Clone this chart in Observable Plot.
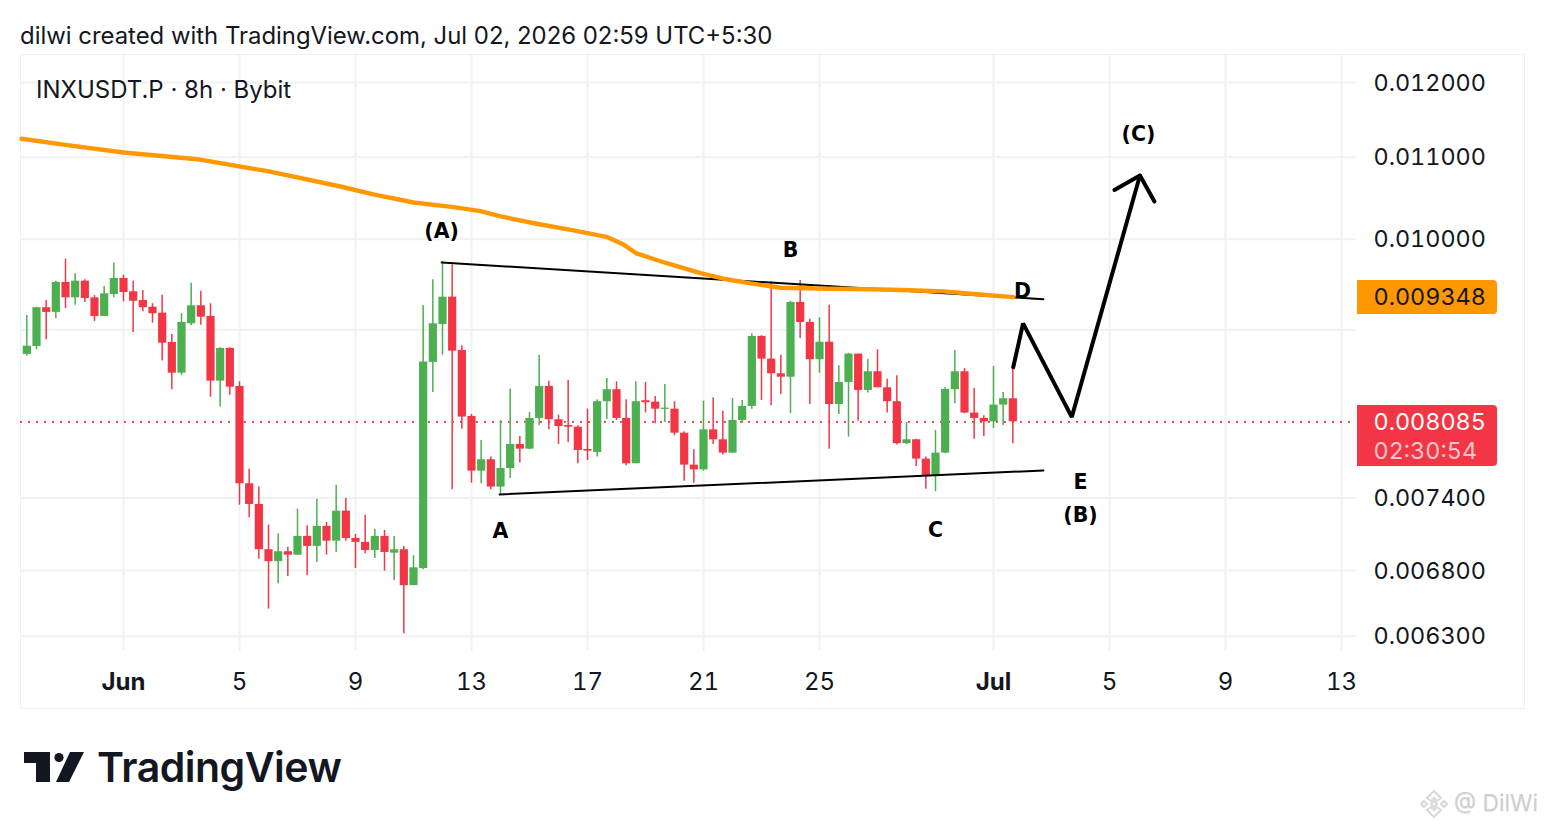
<!DOCTYPE html>
<html>
<head>
<meta charset="utf-8">
<script src="https://cdn.jsdelivr.net/npm/d3@7"></script>
<script src="https://cdn.jsdelivr.net/npm/@observablehq/plot@0.6"></script>
<style>
html,body{margin:0;padding:0;background:#fff;width:1544px;height:828px;overflow:hidden;font-family:Inter,sans-serif;color:#131722}
#page{position:relative;width:1544px;height:828px}
.abs{position:absolute;white-space:nowrap}
#chart{position:absolute;left:0;top:54px}
#chart svg{display:block;font-variant-numeric:tabular-nums}
</style>
</head>
<body>
<div id="page">
<div class="abs" id="frame" style="left:20px;top:54px;width:1503px;height:653px;border:1px solid #f0f1f3"></div>
<div class="abs" style="left:20px;top:21px;font-size:23.9px;line-height:30px">dilwi created with TradingView.com, Jul 02, 2026 02:59 UTC+5:30</div>
<div id="chart"></div>
<div class="abs" style="left:36px;top:75px;font-size:24px;line-height:30px">INXUSDT.P · 8h · Bybit</div>
<svg class="abs" style="left:0;top:730px" width="90" height="70" viewBox="0 730 90 70"><path fill="#131722" d="M24 752H50V782H36V763H24Z"/><circle cx="59" cy="757.5" r="4.6" fill="#131722"/><path fill="#131722" d="M70 752H84L69 782H56Z"/></svg>
<div class="abs" style="left:97px;top:742px;font-size:41px;line-height:50px;font-weight:600;letter-spacing:-0.5px;color:#131722">TradingView</div>
<svg class="abs" style="left:1418px;top:788px" width="32" height="32" viewBox="0 0 32 32"><g fill="none" stroke="#d8d8d8" stroke-width="2"><path d="M16 3L23 10L19 13L16 10L13 13L9 10Z"/><path d="M16 29L23 22L19 19L16 22L13 19L9 22Z"/><path d="M16 13L19 16L16 19L13 16Z"/><path d="M6 13L9 16L6 19L3 16Z"/><path d="M26 13L29 16L26 19L23 16Z"/></g></svg>
<div class="abs" style="left:1454px;top:788px;font-size:22.8px;line-height:30px;color:#cfcfcf;text-shadow:0 1px 1px #e8e8e8">@ DilWi</div>
</div>
<script>
// Candle prices in millionths of USDT, 8h bars
const priceUnit = 1e-6;
const firstBar = Date.UTC(2026, 4, 28, 16);
const barHours = 8;
const opensRaw = [8745,8826,9233,9183,9509,9340,9523,9340,9140,9376,
9553,9406,9311,9239,9175,8867,8556,9062,9254,9140,
8477,8806,8425,7523,7344,6967,6871,6951,6923,7076,
6994,7159,7037,7287,7059,7027,6961,7076,6939,6967,
6682,6817,8664,9055,9347,8785,8136,7634,7736,7494,
7658,7875,7832,8117,8425,8105,8051,8035,7829,7802,
8277,8393,8117,7700,8286,8273,8203,8205,7979,7688,
7646,8010,7918,7796,8098,8231,8930,8697,8550,8516,
9290,9076,8691,8870,8250,8464,8748,8386,8570,8412,
8277,7882,7918,7742,7587,7796,8393,8570,8168,8117,
8085,8244,8305];
const closesRaw = [8829,9233,9183,9509,9340,9523,9333,9140,9384,9553,
9398,9303,9233,9169,8860,8556,9076,9254,9132,8477,
8806,8418,7523,7344,6967,6871,6951,6923,7076,6994,
7159,7037,7287,7059,7027,6961,7076,6945,6967,6682,
6822,8669,9062,9347,8778,8130,7634,7736,7494,7658,
7875,7832,8117,8425,8105,8041,8035,7820,7814,8277,
8393,8117,7700,8277,8267,8205,8215,7979,7688,7646,
8010,7918,7796,8098,8231,8930,8697,8550,8516,9290,
9076,8691,8870,8250,8464,8748,8386,8570,8412,8277,
7882,7918,7742,7587,7796,8396,8570,8168,8117,8085,
8244,8305,8085];
const highsRaw = [9150,9239,9311,9523,9770,9605,9539,9365,9464,9725,
9590,9523,9420,9276,9369,8950,9169,9501,9412,9276,
8813,8813,8471,7652,7494,7170,7098,6988,7304,7165,
7389,7192,7511,7395,7092,7253,7136,7125,7076,6994,
6918,9254,9539,9744,9703,8833,8155,7912,7760,8098,
8399,7949,8174,8737,8477,8148,8484,8048,8205,8296,
8504,8471,8296,8471,8464,8328,8445,8277,7992,7826,
8282,8315,8186,8308,8289,8958,8937,9517,8737,9303,
9531,9111,9125,9260,8630,8755,8748,8697,8792,8497,
8530,8079,7924,7760,8004,8412,8785,8603,8405,8143,
8623,8367,8610];
const lowsRaw = [8727,8792,8895,9118,9225,9260,9290,9087,9140,9340,
9297,8971,9190,9069,8677,8393,8536,9042,9048,8321,
8225,8340,7338,7232,6891,6502,6697,6754,6923,6760,
6865,6923,6945,7037,6817,6935,6897,6796,6723,6319,
6682,6806,8367,8737,7471,8016,7528,7523,7471,7430,
7570,7706,7826,8048,8010,7875,7894,7700,7730,7760,
8110,8098,7682,7700,8168,8067,8079,7955,7546,7528,
7634,7875,7778,7796,8073,8205,8289,8238,8347,8162,
8909,8250,8556,7832,8155,7942,8091,8360,8412,8168,
7869,7875,7676,7476,7454,7790,8257,8162,7924,7949,
8023,8048,7882];

// Moving average: days after Jun 1 and value
const emaDays = [-3.52,-1.94,0,2.54,4.97,7.48,8.62,10,11.38,12.31,13,14.38,15.52,16.69,17.24,17.69,18.76,19.9,20.69,21.62,22.66,24.38,25.76,27.14,28.28,29.21,30.69];
const emaRaw = [11239,11156,11061,10975,10823,10632,10534,10436,10379,10331,10268,10172,10102,10023,9938,9835,9721,9612,9550,9498,9450,9439,9434,9423,9410,9384,9348];

// Drawn annotations
const upperDays = [10.97,31.72];
const upperRaw = [9732,9325];
const lowerDays = [12.97,31.72];
const lowerRaw = [7430,7640];
const pathDays = [30.68,31.02,32.70,35.05];
const pathRaw = [8615,9066,8130,10769];
const arrowDays = [34.17,35.05,35.55];
const arrowRaw = [10590,10769,10448];
const labelTexts = ["(A)","B","D","(C)","A","C","E","(B)"];
const labelDays = [10.97,23,31,35,13,28,33,33];
const labelRaw = [10092,9875,9405,11301,7113,7129,7538,7247];

// Axes
const priceTicks = [0.012,0.011,0.010,0.009,0.0074,0.0068,0.0063];
const dayTicks = [[2026,5,5],[2026,5,9],[2026,5,13],[2026,5,17],[2026,5,21],[2026,5,25],[2026,6,5],[2026,6,9],[2026,6,13]];
const monthTicks = [[2026,5,1],[2026,6,1]];
const lastPrice = 0.008085;
const emaLast = 0.009348;
const countdown = "02:30:54";

const RED = "#f23645", GREEN = "#4caf50", ORANGE = "#ff9800", GRID = "#f1f1f2", INK = "#131722";
const jun1 = Date.UTC(2026,5,1);
const day = d => new Date(jun1 + d*864e5);
const price = v => v*priceUnit;
const utc = a => new Date(Date.UTC(...a));

const bars = opensRaw.map((o,i)=>({
  t:new Date(firstBar + i*barHours*36e5),
  open:price(o), close:price(closesRaw[i]), high:price(highsRaw[i]), low:price(lowsRaw[i]),
  color: closesRaw[i]>=o ? GREEN : RED
}));
const series = (ds,vs)=>ds.map((d,i)=>({t:day(d),v:price(vs[i])}));
const labels = labelTexts.map((s,i)=>({s,t:day(labelDays[i]),v:price(labelRaw[i])}));
const gridDates = [...dayTicks,...monthTicks].map(utc);

const chart = Plot.plot({
  width:1544, height:654,
  marginLeft:20, marginRight:188, marginTop:0, marginBottom:57,
  style:{fontFamily:"Inter, sans-serif",background:"transparent",color:INK,overflow:"visible"},
  x:{type:"utc",domain:[day(-103/29),day(1233/29)],axis:null},
  y:{type:"log",domain:[0.006189,0.012397],axis:null},
  marks:[
    Plot.ruleX(gridDates,{stroke:GRID,strokeWidth:2}),
    Plot.ruleY(priceTicks,{stroke:GRID,strokeWidth:2}),
    Plot.axisY({anchor:"right",ticks:priceTicks,tickFormat:d=>d.toFixed(6),tickSize:0,tickPadding:17,fontSize:23.4,dy:0.6,label:null,color:INK}),
    Plot.axisX({anchor:"bottom",ticks:dayTicks.map(utc),tickFormat:d=>String(d.getUTCDate()),tickSize:0,tickPadding:21,fontSize:24,label:null}),
    Plot.axisX({anchor:"bottom",ticks:monthTicks.map(utc),tickFormat:d3.utcFormat("%b"),tickSize:0,tickPadding:21,fontSize:24,fontWeight:"bold",label:null}),
    Plot.ruleY([lastPrice],{stroke:RED,strokeWidth:1.6,strokeDasharray:"2 6"}),
    Plot.ruleX(bars,{x:"t",y1:"low",y2:"high",stroke:"color",strokeWidth:1.5}),
    Plot.ruleX(bars,{x:"t",y1:"open",y2:"close",stroke:"color",strokeWidth:8.2}),
    Plot.line(series(upperDays,upperRaw),{x:"t",y:"v",stroke:"#000",strokeWidth:2}),
    Plot.line(series(lowerDays,lowerRaw),{x:"t",y:"v",stroke:"#000",strokeWidth:2}),
    Plot.line(series(emaDays,emaRaw),{x:"t",y:"v",stroke:ORANGE,strokeWidth:4.4,curve:"linear"}),
    Plot.line(series(pathDays,pathRaw),{x:"t",y:"v",stroke:"#000",strokeWidth:4,strokeLinejoin:"miter"}),
    Plot.line(series(arrowDays,arrowRaw),{x:"t",y:"v",stroke:"#000",strokeWidth:4,strokeLinejoin:"miter"}),
    Plot.text(labels,{x:"t",y:"v",text:"s",fontFamily:"DejaVu Sans",fontWeight:"bold",fontSize:20.5,fill:"#000"})
  ]
});
document.getElementById("chart").appendChild(chart);

// Price tags placed through the chart's own y scale
const yPage = v => chart.scale("y").apply(v)+54;
function tag(centre,h,bg,lines){
  const d=document.createElement("div");
  d.className="abs";
  d.style.cssText=`left:1357px;width:140px;top:${centre-h/2}px;height:${h}px;background:${bg};border-radius:0 4px 4px 0;`;
  lines.forEach(([s,c,top])=>{
    const e=document.createElement("div");
    e.className="abs"; e.textContent=s;
    e.style.cssText=`left:16.5px;top:${top}px;font-size:23.4px;line-height:30px;font-variant-numeric:tabular-nums;color:${c}`;
    d.appendChild(e);
  });
  document.getElementById("page").appendChild(d);
}
tag(yPage(emaLast),34,ORANGE,[[emaLast.toFixed(6),"#131722",2.5]]);
tag(yPage(lastPrice)+14,61,RED,[[lastPrice.toFixed(6),"#fff",2.5],[countdown,"rgba(255,255,255,.72)",31.5]]);
</script>
</body>
</html>
